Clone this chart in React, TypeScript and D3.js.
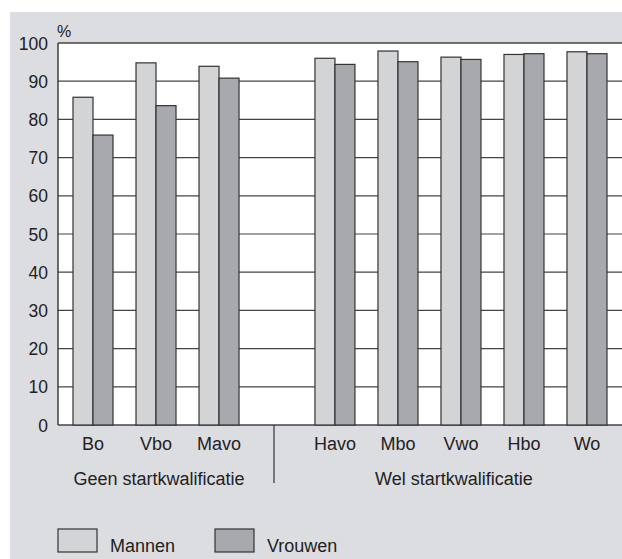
import { useEffect, useRef } from "react";
import * as d3 from "d3";

const categories = ["Bo", "Vbo", "Mavo", "Havo", "Mbo", "Vwo", "Hbo", "Wo"];
const mannen = [85.8, 94.8, 93.9, 96.0, 97.9, 96.3, 97.0, 97.7];
const vrouwen = [75.9, 83.6, 90.8, 94.4, 95.1, 95.7, 97.2, 97.2];
const groups = [
    { label: "Geen startkwalificatie", from: 0, to: 2, shift: 3 },
    { label: "Wel startkwalificatie", from: 3, to: 7, shift: -7 },
];
const yTicks = [0, 10, 20, 30, 40, 50, 60, 70, 80, 90, 100];
const legendItems = ["Mannen", "Vrouwen"];

const W = 622;
const H = 559;
const font = "'Liberation Sans', Arial, sans-serif";
const colMen = "#d3d4d6";
const colWomen = "#a8a9ac";
const stroke = "#333";

// second group sits a bit further away than one slot
const slot = (i: number) => i + (i >= 3 ? 0.84 : 0);

export default function App() {
    const svgRef = useRef<SVGSVGElement | null>(null);

    useEffect(() => {
        const svg = d3.select(svgRef.current);
        svg.selectAll("*").remove();

        const plot = { left: 58, top: 43, right: W, bottom: 425 };
        const barW = 20;

        const y = d3.scaleLinear().domain([0, 100]).range([plot.bottom, plot.top]);
        const x = d3.scaleLinear().domain([0, slot(7)]).range([93, 587]);

        // grey panel
        svg.append("rect")
            .attr("x", 10).attr("y", 12)
            .attr("width", W - 10).attr("height", H - 12)
            .attr("fill", "#dcdde0");

        svg.append("rect")
            .attr("x", plot.left).attr("y", plot.top)
            .attr("width", plot.right - plot.left).attr("height", plot.bottom - plot.top)
            .attr("fill", "#fff");

        // grid
        svg.append("g")
            .selectAll("line")
            .data(yTicks)
            .join("line")
            .attr("x1", plot.left).attr("x2", plot.right)
            .attr("y1", (d) => y(d)).attr("y2", (d) => y(d))
            .attr("stroke", "#444")
            .attr("stroke-width", (d) => (d === 0 || d === 100 ? 1.6 : 1.2));

        svg.append("line")
            .attr("x1", plot.left).attr("x2", plot.left)
            .attr("y1", plot.top).attr("y2", plot.bottom)
            .attr("stroke", "#333").attr("stroke-width", 1.4);

        // tick labels
        svg.append("g")
            .selectAll("text")
            .data(yTicks)
            .join("text")
            .attr("x", 48)
            .attr("y", (d) => y(d) + 6.5)
            .attr("text-anchor", "end")
            .attr("font-family", font)
            .attr("font-size", 17.5)
            .attr("fill", "#222")
            .text((d) => d);

        svg.append("text")
            .attr("x", 57).attr("y", 37)
            .attr("font-family", font).attr("font-size", 16)
            .attr("fill", "#222")
            .text("%");

        // bars
        const bars = svg.append("g");
        categories.forEach((c, i) => {
            const cx = x(slot(i));
            bars.append("rect")
                .attr("x", cx - barW).attr("y", y(mannen[i]))
                .attr("width", barW).attr("height", y(0) - y(mannen[i]))
                .attr("fill", colMen).attr("stroke", stroke).attr("stroke-width", 1.2);
            bars.append("rect")
                .attr("x", cx).attr("y", y(vrouwen[i]))
                .attr("width", barW).attr("height", y(0) - y(vrouwen[i]))
                .attr("fill", colWomen).attr("stroke", stroke).attr("stroke-width", 1.2);
        });

        // category labels
        svg.append("g")
            .selectAll("text")
            .data(categories)
            .join("text")
            .attr("x", (_, i) => x(slot(i)))
            .attr("y", 450)
            .attr("text-anchor", "middle")
            .attr("font-family", font)
            .attr("font-size", 18)
            .attr("fill", "#222")
            .text((d) => d);

        // group labels + divider
        groups.forEach((g) => {
            svg.append("text")
                .attr("x", (x(slot(g.from)) + x(slot(g.to))) / 2 + g.shift)
                .attr("y", 485)
                .attr("text-anchor", "middle")
                .attr("font-family", font)
                .attr("font-size", 18)
                .attr("fill", "#222")
                .text(g.label);
        });
        const divX = (x(slot(2)) + x(slot(3))) / 2 - 3;
        svg.append("line")
            .attr("x1", divX).attr("x2", divX)
            .attr("y1", plot.bottom).attr("y2", 483)
            .attr("stroke", "#333").attr("stroke-width", 1.2);

        // legend
        const legend = svg.append("g");
        legendItems.forEach((name, i) => {
            const lx = 58 + i * 157;
            legend.append("rect")
                .attr("x", lx).attr("y", 529)
                .attr("width", 39).attr("height", 23)
                .attr("fill", i === 0 ? colMen : colWomen)
                .attr("stroke", stroke).attr("stroke-width", 1.2);
            legend.append("text")
                .attr("x", lx + 52).attr("y", 552)
                .attr("font-family", font)
                .attr("font-size", 18)
                .attr("fill", "#222")
                .text(name);
        });
    }, []);

    return (
        <svg
            ref={svgRef}
            width={W}
            height={H}
            style={{ position: "absolute", left: 0, top: 0 }}
        />
    );
}
